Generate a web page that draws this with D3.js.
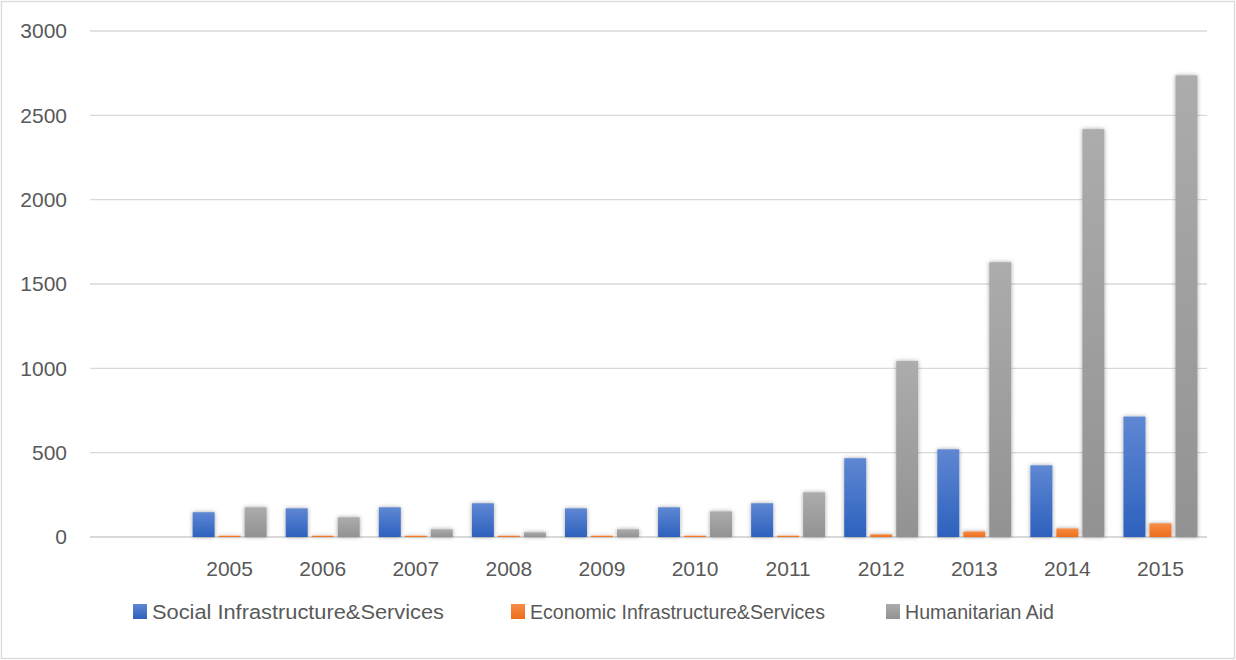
<!DOCTYPE html>
<html><head><meta charset="utf-8">
<script src="https://cdn.jsdelivr.net/npm/d3@7"></script>
<style>body{margin:0;background:#fff;}svg{display:block;}</style>
</head><body>
<svg id="chart" width="1236" height="660"></svg>
<script>
const categories = ["", "2005","2006","2007","2008","2009","2010","2011","2012","2013","2014","2015"];
const seriesNames = ["Social Infrastructure&Services","Economic Infrastructure&Services","Humanitarian Aid"];
const social = [null, 147, 170, 176, 200, 170, 176, 200, 467, 520, 425, 714];
const economic = [null, 8, 8, 8, 8, 8, 8, 8, 16, 33, 51, 81];
const humanitarian = [null, 176, 117, 46, 28, 46, 152, 265, 1043, 1629, 2418, 2737];
const yTicks = [0, 500, 1000, 1500, 2000, 2500, 3000];

const svg = d3.select("#chart");
const W = 1236, H = 660;
const m = {left: 90, right: 29, top: 31, bottom: 123};
const FONT = "'Liberation Sans', Arial, sans-serif";

svg.append("rect").attr("x",1.5).attr("y",1.5).attr("width",W-3).attr("height",H-3)
  .attr("fill","#fff").attr("stroke","#d9d9d9").attr("stroke-width",1.3);

const defs = svg.append("defs");
const grads = [["gBlue","#5f87d3","#2d61bd"],["gOrange","#f68c45","#ee6e1c"],["gGray","#acacac","#929292"]];
grads.forEach(([id,c1,c2])=>{
  const g = defs.append("linearGradient").attr("id",id).attr("x1",0).attr("y1",0).attr("x2",0).attr("y2",1);
  g.append("stop").attr("offset","0%").attr("stop-color",c1);
  g.append("stop").attr("offset","100%").attr("stop-color",c2);
});
const f = defs.append("filter").attr("id","shadow").attr("x","-50%").attr("y","-20%").attr("width","200%").attr("height","140%");
f.append("feDropShadow").attr("dx",0).attr("dy",0).attr("stdDeviation",2.2).attr("flood-color","#000").attr("flood-opacity",0.35);

const x = d3.scaleBand().domain(d3.range(categories.length)).range([m.left, W - m.right]).paddingInner(0).paddingOuter(0);
const y = d3.scaleLinear().domain([0,3000]).range([H - m.bottom, m.top]);
const bw = 22, gap = 4;

// gridlines
svg.append("g").selectAll("line").data(yTicks).join("line")
  .attr("x1", m.left).attr("x2", W - m.right)
  .attr("y1", d=>y(d)).attr("y2", d=>y(d))
  .attr("stroke","#d9d9d9").attr("stroke-width", d=> d===0 ? 2 : 1.4);

// y tick labels
const yAxis = d3.axisLeft(y).tickValues(yTicks).tickFormat(d3.format("d")).tickSize(0).tickPadding(0);
const ya = svg.append("g").attr("transform",`translate(67,0)`).call(yAxis);
ya.select(".domain").remove();
ya.selectAll("text").attr("font-family",FONT).attr("font-size",21).attr("fill","#595959");

// bars
const series = [social, economic, humanitarian];
const fills = ["url(#gBlue)","url(#gOrange)","url(#gGray)"];
series.forEach((vals, si)=>{
  svg.append("g").attr("filter","url(#shadow)").selectAll("rect")
    .data(vals.map((v,i)=>({v,i})).filter(d=>d.v!==null))
    .join("rect")
    .attr("x", d => x(d.i) + x.bandwidth()/2 - (3*bw+2*gap)/2 + si*(bw+gap))
    .attr("width", bw)
    .attr("y", d => y(d.v))
    .attr("height", d => y(0) - y(d.v))
    .attr("fill", fills[si]);
});

// x labels
const xAxis = d3.axisBottom(x).tickFormat(i=>categories[i]).tickSize(0).tickPadding(0);
const xa = svg.append("g").attr("transform",`translate(0,${y(0)+24})`).call(xAxis);
xa.select(".domain").remove();
xa.selectAll("text").attr("font-family",FONT).attr("font-size",21).attr("fill","#595959").attr("dy","0.71em").attr("y",0);

// legend
const legX = [133, 511, 886];
const legW = [292, 295, 149];
const leg = svg.append("g");
seriesNames.forEach((n,i)=>{
  leg.append("rect").attr("x",legX[i]).attr("y",604).attr("width",14).attr("height",15).attr("fill",fills[i]);
  leg.append("text").attr("x",legX[i]+19).attr("y",619).text(n)
    .attr("textLength", legW[i]).attr("lengthAdjust","spacingAndGlyphs")
    .attr("font-family",FONT).attr("font-size",20.5).attr("fill","#595959");
});
</script>
</body></html>
